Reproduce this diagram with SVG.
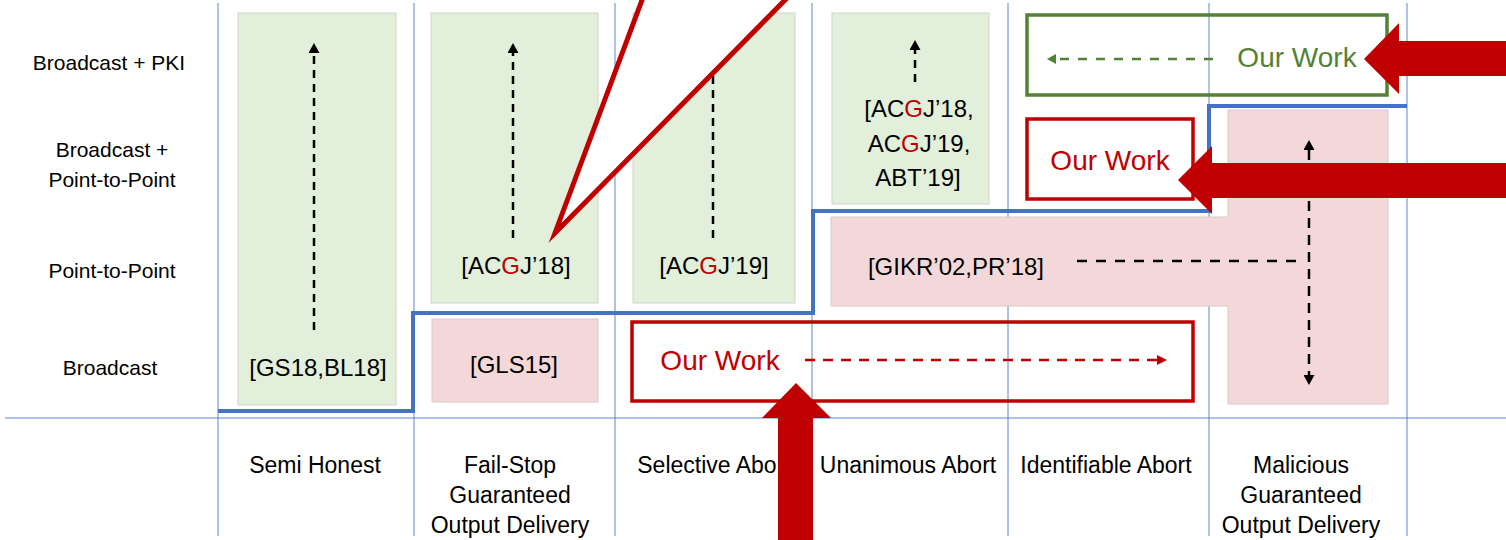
<svg xmlns="http://www.w3.org/2000/svg" width="1506" height="540" viewBox="0 0 1506 540">
<style>
text{font-family:"Liberation Sans",Arial,sans-serif;fill:#000}
.row{font-size:21px;text-anchor:middle}
.col{font-size:23px;text-anchor:middle}
.ref{font-size:24px;text-anchor:middle}
.ow{font-size:28px;text-anchor:middle}
.r{fill:#c00000}
.grid{stroke:#4472c4;stroke-width:1;opacity:0.85}
.gbox{fill:#e2efda;stroke:#cdd5c9;stroke-width:1}
.pbox{fill:#f4d8d9;stroke:#d8c8c8;stroke-width:1}
.dash{stroke:#000;stroke-width:2.5;stroke-dasharray:8 6;fill:none}
.blk{fill:#c00000}
</style>
<defs>
<marker id="ak" viewBox="0 0 10 11" refX="0" refY="5.5" markerWidth="10" markerHeight="11" markerUnits="userSpaceOnUse" orient="auto-start-reverse"><path d="M0,0L10,5.5L0,11z" fill="#000"/></marker>
<marker id="ag" viewBox="0 0 9 10" refX="0" refY="5" markerWidth="9" markerHeight="10" markerUnits="userSpaceOnUse" orient="auto"><path d="M0,0L9,5L0,10z" fill="#548235"/></marker>
<marker id="ar" viewBox="0 0 10 10" refX="0" refY="5" markerWidth="10" markerHeight="10" markerUnits="userSpaceOnUse" orient="auto"><path d="M0,0L10,5L0,10z" fill="#c00000"/></marker>
</defs>

<g id="grid">
<line class="grid" x1="5" y1="418" x2="1506" y2="418"/>
<line class="grid" x1="218" y1="3" x2="218" y2="536"/>
<line class="grid" x1="414" y1="3" x2="414" y2="536"/>
<line class="grid" x1="615" y1="3" x2="615" y2="536"/>
<line class="grid" x1="812" y1="3" x2="812" y2="536"/>
<line class="grid" x1="1008" y1="3" x2="1008" y2="536"/>
<line class="grid" x1="1209" y1="3" x2="1209" y2="536"/>
<line class="grid" x1="1407" y1="3" x2="1407" y2="536"/>
</g>

<g id="row-labels">
<text class="row" x="109" y="70">Broadcast + PKI</text>
<text class="row" x="112" y="157">Broadcast +</text>
<text class="row" x="112" y="187">Point-to-Point</text>
<text class="row" x="112" y="278">Point-to-Point</text>
<text class="row" x="110" y="375">Broadcast</text>
</g>

<g id="col-labels">
<text class="col" x="315" y="473">Semi Honest</text>
<text class="col" x="510" y="473">Fail-Stop</text>
<text class="col" x="510" y="503">Guaranteed</text>
<text class="col" x="510" y="533">Output Delivery</text>
<text class="col" x="714" y="473">Selective Abort</text>
<text class="col" x="908" y="473">Unanimous Abort</text>
<text class="col" x="1106" y="473">Identifiable Abort</text>
<text class="col" x="1301" y="473">Malicious</text>
<text class="col" x="1301" y="503">Guaranteed</text>
<text class="col" x="1301" y="533">Output Delivery</text>
</g>

<g id="semi-honest">
<rect class="gbox" x="238" y="13" width="158" height="392"/>
<text class="ref" x="318" y="376">[GS18,BL18]</text>
</g>
<g id="failstop-p2p">
<rect class="gbox" x="431" y="13" width="167" height="290"/>
<text class="ref" x="516" y="274">[AC<tspan class="r">G</tspan>J’18]</text>
</g>
<g id="failstop-bc">
<rect class="pbox" x="432" y="319" width="166" height="83"/>
<text class="ref" x="514" y="373">[GLS15]</text>
</g>
<g id="selective-p2p">
<rect class="gbox" x="633" y="13" width="162" height="290"/>
<text class="ref" x="714" y="274">[AC<tspan class="r">G</tspan>J’19]</text>
</g>
<g id="unanimous-bc-p2p">
<rect class="gbox" x="832" y="13" width="157" height="191"/>
<text class="ref" x="919" y="117">[AC<tspan class="r">G</tspan>J’18,</text>
<text class="ref" x="919" y="152">AC<tspan class="r">G</tspan>J’19,</text>
<text class="ref" x="918" y="186">ABT’19]</text>
</g>
<g id="gikr">
<path class="pbox" d="M831,217H1228V110H1388V404H1228V306H831Z"/>
<text class="ref" x="956" y="275">[GIKR’02,PR’18]</text>
</g>

<g id="our-work-pki">
<rect x="1027" y="15" width="360" height="80" fill="none" stroke="#548235" stroke-width="3.5"/>
<text class="ow" x="1297" y="67" style="fill:#548235">Our Work</text>
</g>
<g id="our-work-bcp2p">
<rect x="1027" y="119" width="166" height="80" fill="none" stroke="#c00000" stroke-width="3.5"/>
<text class="ow r" x="1110" y="170">Our Work</text>
</g>
<g id="our-work-bc">
<rect x="632" y="322" width="561" height="79" fill="none" stroke="#c00000" stroke-width="3.5"/>
<text class="ow r" x="720" y="370">Our Work</text>
</g>

<g id="boundary">
<polyline points="218,411 413,411 413,313 813,313 813,211 1209,211 1209,106 1407,106" fill="none" stroke="#4472c4" stroke-width="4"/>
</g>

<g id="connectors">
<line class="dash" x1="314" y1="330" x2="314" y2="53" marker-end="url(#ak)"/>
<line class="dash" x1="513" y1="238" x2="513" y2="53" marker-end="url(#ak)"/>
<line class="dash" x1="713" y1="238" x2="713" y2="53" marker-end="url(#ak)"/>
<line class="dash" x1="915" y1="82" x2="915" y2="50" marker-end="url(#ak)"/>
<line class="dash" x1="1309" y1="150" x2="1309" y2="375" style="stroke-dasharray:10 7" marker-start="url(#ak)" marker-end="url(#ak)"/>
<line class="dash" x1="1077" y1="261" x2="1296" y2="261" style="stroke-dasharray:10 9"/>
<line x1="1213" y1="59" x2="1056" y2="59" stroke="#548235" stroke-width="2.5" stroke-dasharray="9 9" marker-end="url(#ag)"/>
<line x1="805" y1="360" x2="1157" y2="360" stroke="#c00000" stroke-width="2.5" stroke-dasharray="10 8" marker-end="url(#ar)"/>
</g>

<g id="callouts">
<polygon points="555,233 649.5,-20 804.8,-20" fill="#fff" stroke="#c00000" stroke-width="5" stroke-miterlimit="10"/>
<polygon class="blk" points="1364,59 1399,23 1399,41 1506,41 1506,76 1399,76 1399,94"/>
<polygon class="blk" points="1178,180 1212,146 1212,163 1506,163 1506,198 1212,198 1212,214"/>
<polygon class="blk" points="796,383 831,418 813,418 813,540 778,540 778,418 762,418"/>
</g>
</svg>
